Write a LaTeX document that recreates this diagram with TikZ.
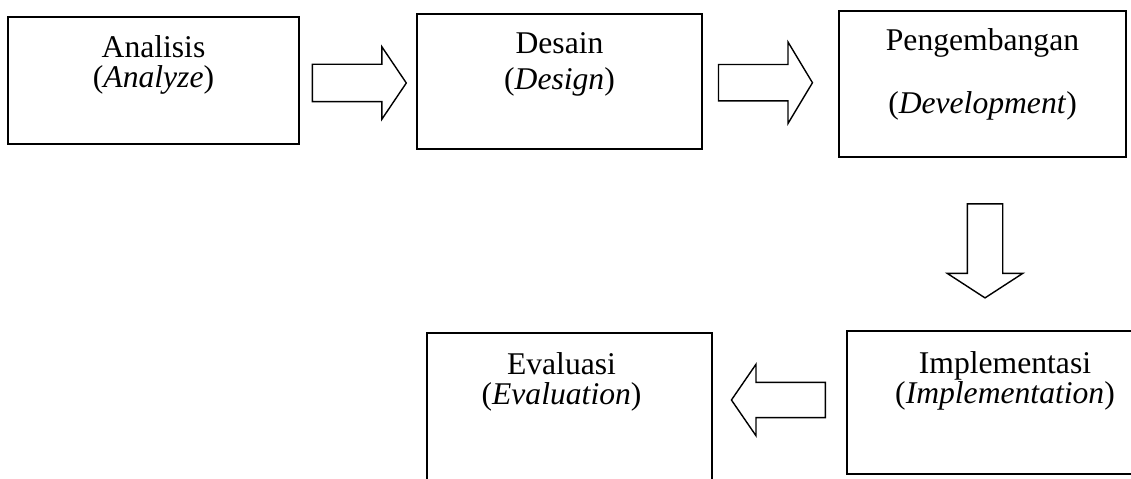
\documentclass[tikz,border=0pt]{standalone}
\usepackage{fontspec}
\setmainfont{Liberation Serif}
\usetikzlibrary{calc}
\usetikzlibrary{positioning}
\usetikzlibrary{shapes.arrows}

\tikzset{
	stagebox/.style={rectangle, draw=black, line width=1.2pt, inner sep=0pt},
	stagetext/.style={align=center, inner sep=0pt, font=\fontsize{18}{17}\selectfont},
	blockarrow/.style={single arrow, draw=black, line width=0.8pt,
		minimum height=1.88cm, single arrow head indent=0pt}
}

\begin{document}
\begin{tikzpicture}[x=0.02cm,y=-0.02cm]
	\useasboundingbox (0,0) rectangle (1131,479);

	%Stages
	%Analisis
	\node[stagebox, minimum width=5.82cm, minimum height=2.54cm] (analisis) at (153.5,80.5) {};
	\node[stagetext, below=0.39cm of analisis.north] (analisistext) {Analisis\\(\textit{Analyze})};

	%Desain
	\node[stagebox, minimum width=5.70cm, minimum height=2.70cm] (desain) at (559.5,81.5) {};
	\node[stagetext, below=0.39cm of desain.north] (desaintext) {Desain\\[0.12cm](\textit{Design})};

	%Pengembangan
	\node[stagebox, minimum width=5.74cm, minimum height=2.92cm] (pengembangan) at (982.5,84) {};
	\node[stagetext, below=0.36cm of pengembangan.north] (pengembangantext) {Pengembangan\\[0.66cm](\textit{Development})};

	%Implementasi
	\node[stagebox, minimum width=6.32cm, minimum height=2.86cm] (implementasi) at (1005,402.5) {};
	\node[stagetext, below=0.42cm of implementasi.north] (implementasitext) {Implementasi\\(\textit{Implementation})};

	%Evaluasi
	\node[stagebox, minimum width=5.70cm, minimum height=3.20cm] (evaluasi) at (569.5,413) {};
	\node[stagetext, below=0.4cm of evaluasi.north, xshift=-0.16cm] (evaluasitext) {Evaluasi\\(\textit{Evaluation})};

	%Arrows
	\node[blockarrow, inner sep=0.36cm, single arrow head extend=0.35cm, single arrow tip angle=112,
		xshift=-0.1cm, yshift=-0.04cm] (arrowad) at ($(analisis.east)!0.5!(desain.west)$) {};
	\node[blockarrow, inner sep=0.35cm, single arrow head extend=0.45cm, single arrow tip angle=118,
		xshift=-0.21cm] (arrowdp) at ($(desain.east)!0.5!(pengembangan.west)$) {};
	\node[blockarrow, inner sep=0.34cm, single arrow head extend=0.40cm, single arrow tip angle=114,
		shape border rotate=270, xshift=0.05cm, yshift=0.08cm] (arrowpi) at ($(pengembangan.south)!0.53!(pengembangan.south |- implementasi.north)$) {};
	\node[blockarrow, inner sep=0.34cm, single arrow head extend=0.36cm, single arrow tip angle=111,
		shape border rotate=180, xshift=0.1cm, yshift=0.05cm] (arrowie) at ($(evaluasi.east |- implementasi.west)!0.5!(implementasi.west)$) {};

\end{tikzpicture}
\end{document}
